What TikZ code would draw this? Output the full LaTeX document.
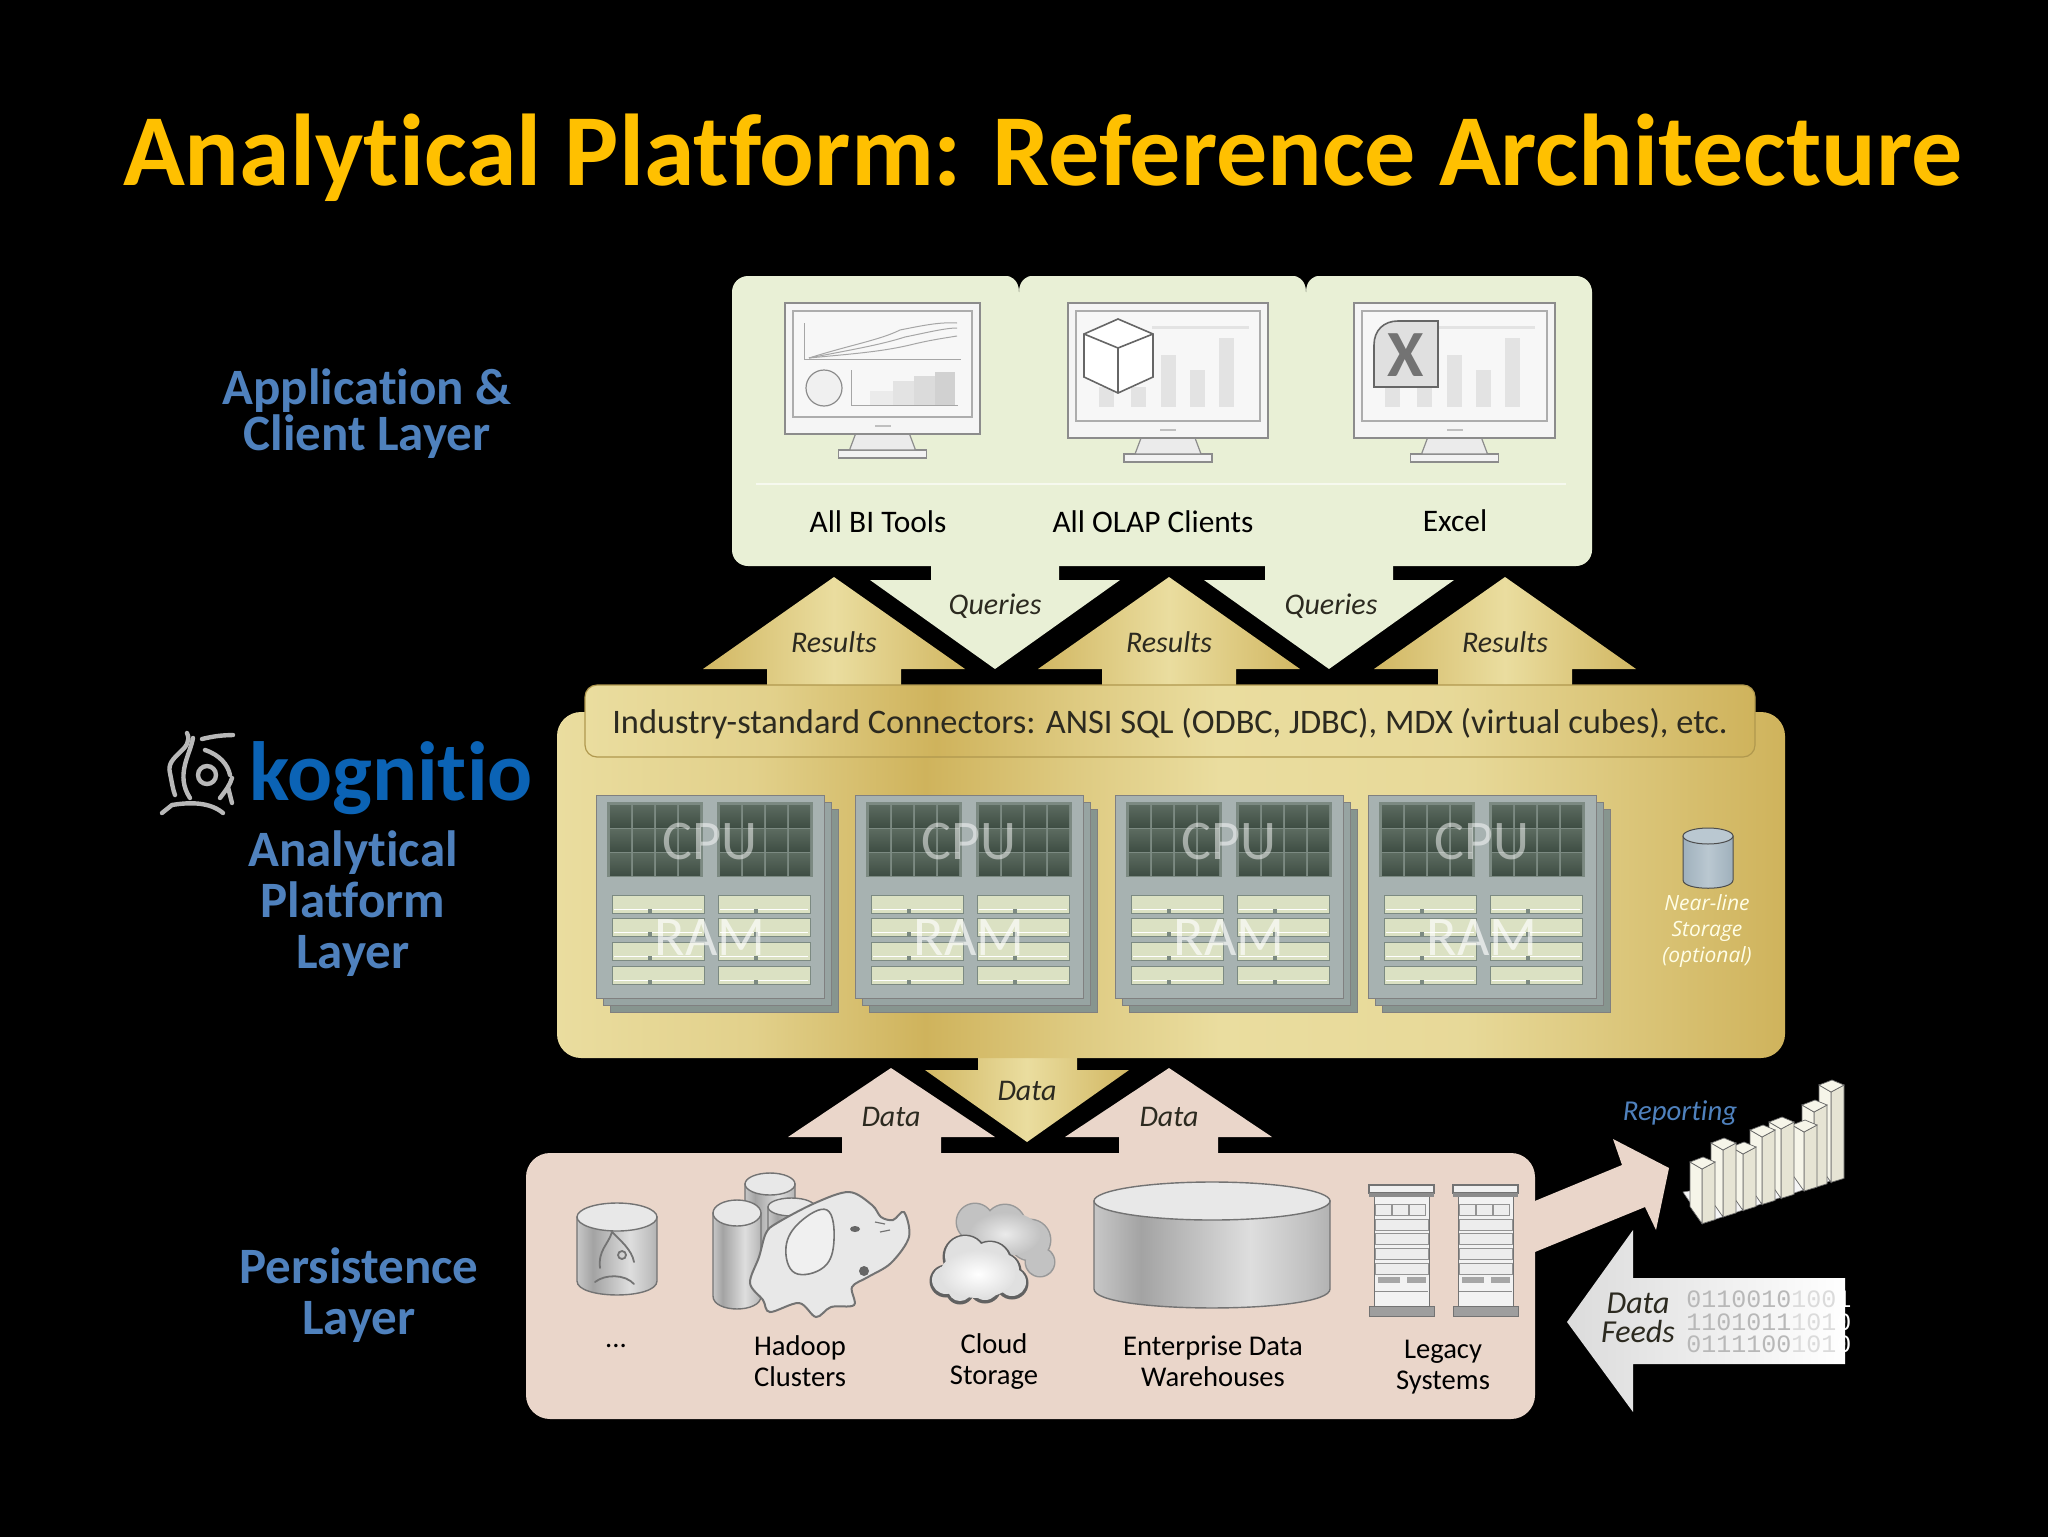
\documentclass[tikz,border=0pt]{standalone}
\usepackage{fontspec}
\setmainfont{Carlito}[Ligatures=NoCommon]
\newfontfamily\noteface{Open Sans}
\newfontfamily\bitface{Liberation Mono}
\usetikzlibrary{positioning}

\definecolor{titlegold}{HTML}{FFC000}
\definecolor{layerblue}{HTML}{4F81BD}
\definecolor{brandblue}{HTML}{0B63B5}
\definecolor{clientgreen}{HTML}{E9F0D6}
\definecolor{peach}{HTML}{EAD6CA}
\definecolor{goldA}{HTML}{EADD9F}
\definecolor{goldB}{HTML}{CFB35C}
\definecolor{darkink}{HTML}{2C2A20}
\definecolor{cardface}{HTML}{A7B2B1}
\definecolor{cardmid}{HTML}{97A4A2}
\definecolor{cardlow}{HTML}{87958F}
\definecolor{chipbed}{HTML}{7C8A82}
\definecolor{chiptop}{HTML}{5C6B60}
\definecolor{chiplow}{HTML}{3F4E44}
\definecolor{ramfill}{HTML}{DBE1C3}
\definecolor{steelA}{HTML}{9FB0BC}
\definecolor{steelB}{HTML}{BAC8D1}
\definecolor{barlit}{HTML}{F6F5E9}
\definecolor{barshade}{HTML}{E6E4D4}

\pgfdeclarehorizontalshading{goldband}{100bp}{
  color(0bp)=(goldA); color(25bp)=(goldA); color(33bp)=(goldA!70!goldB);
  color(40bp)=(goldB); color(46bp)=(goldA!55!goldB); color(52bp)=(goldA);
  color(62bp)=(goldA!90!goldB); color(75bp)=(goldB); color(100bp)=(goldB)}
\pgfdeclarehorizontalshading{drumside}{100bp}{
  color(0bp)=(black!22); color(25bp)=(black!22); color(35bp)=(black!36);
  color(58bp)=(black!13); color(70bp)=(black!24); color(75bp)=(black!30); color(100bp)=(black!30)}

\begin{document}
\begin{tikzpicture}[x=0.5pt,y=-0.5pt,
titletext/.style={font=\fontsize{51}{51}\selectfont\bfseries,text=titlegold,inner sep=0pt},
layertext/.style={font=\fontsize{25.5}{25.5}\selectfont\bfseries,text=layerblue,align=center,inner sep=0pt},
itemtext/.style={font=\fontsize{14.3}{15.5}\selectfont,text=black,align=center,inner sep=0pt},
clienttext/.style={font=\fontsize{15.7}{16}\selectfont,text=black,inner sep=0pt},
flowtext/.style={font=\fontsize{15}{14.5}\selectfont\itshape,text=darkink,align=center,inner sep=0pt},
chiptext/.style={font=\fontsize{28}{28}\selectfont,text=white,inner sep=0pt},
bittext/.style={font=\fontsize{12.5}{11.2}\selectfont\bitface,text=black!28,align=left,inner sep=0pt},
screen/.style={draw=black!32,fill=black!3,line width=0.6pt},
chart/.style={fill=black!11},
chartline/.style={draw=black!35,line width=0.5pt},
drumwall/.style={shading=drumside,draw=black!55,line width=0.7pt},
drumlid/.style={fill=black!9,draw=black!55,line width=0.7pt},
goldarrow/.style={left color=goldB!90!goldA,right color=goldB!90!goldA,middle color=goldA},
owlstroke/.style={draw=black!28,line width=2.2pt,line cap=round},
owlfaint/.style={draw=black!55,line width=0.9pt,line cap=round},
rackunit/.style={fill=black!7,draw=black!42,line width=0.35pt},
barfront/.style={fill=barlit,draw=black!60,line width=0.35pt},
barside/.style={fill=barshade,draw=black!60,line width=0.35pt}
]

\useasboundingbox (0,0) rectangle (2048,1536);
\fill[black] (-6,-6) rectangle (2054,1542);

%% Title and layer names %%%%%%%%%%%%%%%%%%%%%%%%%%%%%%%%%%%%%%%%%%%%%%%%%%%%
\node [titletext] (title) at (1043,158) {Analytical Platform: Reference Architecture};
\node [layertext,font=\fontsize{25.5}{23}\selectfont\bfseries] (appname) at (367,414) {Application \&\\Client Layer};
\node [layertext] (platname) at (353,904) {Analytical\\Platform\\Layer};
\node [layertext] (persname) at (359,1295) {Persistence\\Layer};
\node [font=\fontsize{42}{42}\selectfont\bfseries,text=brandblue,inner sep=0pt] (brand) at (391,778) {kognitio};

%% Owl mark
\draw [owlstroke] (202,739) to[bend left=6] (233,735);
\draw [owlstroke] (187,733) .. controls (195,750) and (165,755) .. (170,773) .. controls (172,783) and (173,790) .. (175,795);
\draw [owlstroke] (193,738) .. controls (190,755) and (175,775) .. (190,798);
\draw [owlstroke] (205,750) .. controls (220,755) and (228,765) .. (230,775);
\draw [owlstroke] (232,778) .. controls (230,785) and (226,790) .. (220,798);
\draw [owlstroke] (207,775) circle (9);
\draw [owlstroke] (228,787) -- (232,803);
\draw [owlstroke] (162,813) -- (172,805) .. controls (190,802) and (210,802) .. (223,813);

%% Client panel %%%%%%%%%%%%%%%%%%%%%%%%%%%%%%%%%%%%%%%%%%%%%%%%%%%%%%%%%%%%%%
\foreach \tx in {995,1329}
\fill [clientgreen] ({\tx-64},560) -- ({\tx-64},580) -- ({\tx-125},580) -- (\tx,669) -- ({\tx+125},580) -- ({\tx+64},580) -- ({\tx+64},560) -- cycle;
\fill [clientgreen,rounded corners=8pt] (732,566) rectangle (1592,276);
\foreach \nx in {1019,1306}
\fill [black] ({\nx-16},275) .. controls ({\nx-5},276) and (\nx,282) .. (\nx,292) .. controls (\nx,282) and ({\nx+5},276) .. ({\nx+16},275) -- cycle;
\draw [white!60!clientgreen,line width=0.8pt] (756,484) -- (1566,484);

%% Monitors
\foreach \mx/\my/\mw/\mh in {785/303/195/131,1068/303/200/135,1354/303/201/135} {
  \filldraw [fill=black!5,draw=black!45,line width=0.6pt] ({\mx+\mw/2-44},{\my+\mh+16}) rectangle ({\mx+\mw/2+44},{\my+\mh+24});
  \filldraw [fill=black!8,draw=black!45,line width=0.6pt] ({\mx+\mw/2-27},{\my+\mh}) -- ({\mx+\mw/2-33},{\my+\mh+16}) -- ({\mx+\mw/2+33},{\my+\mh+16}) -- ({\mx+\mw/2+27},{\my+\mh}) -- cycle;
  \filldraw [fill=black!4,draw=black!45,line width=0.8pt] (\mx,\my) rectangle ({\mx+\mw},{\my+\mh});
  \draw [screen] ({\mx+8},{\my+8}) rectangle ({\mx+\mw-8},{\my+\mh-17});
  \fill [black!25] ({\mx+\mw/2-8},{\my+\mh-9}) rectangle ({\mx+\mw/2+8},{\my+\mh-7});
}

%% Charts on the monitors
\draw [chartline] (804,323) -- (804,359) -- (961,359);
\draw [chartline] (809,358) .. controls (850,345) and (880,340) .. (900,330) .. controls (925,325) and (940,322) .. (957,323);
\draw [chartline] (809,358) .. controls (850,350) and (880,345) .. (905,337) .. controls (925,333) and (945,328) .. (957,328);
\draw [chartline] (809,358) .. controls (850,354) and (880,352) .. (910,345) .. controls (930,340) and (945,338) .. (957,336);
\filldraw [fill=black!6,draw=black!45,line width=0.6pt] (824,388) circle (18);
\fill [black!8] (870,391) rectangle (893,405);
\fill [black!11] (893,381) rectangle (914,405);
\fill [black!14] (914,376) rectangle (935,405);
\fill [black!18] (935,372) rectangle (955,405);
\draw [chartline] (851,370) -- (851,405) -- (958,405);
\foreach \ox in {0,286} {
  \foreach \bl/\bt in {1099/387,1131/387,1161/355,1190/370,1219/338}
  \fill [chart] ({\bl+\ox},\bt) rectangle ({\bl+15+\ox},407);
  \fill [chart] ({1152+\ox},326) rectangle ({1249+\ox},329);
}
\filldraw [fill=white,draw=black!60,line width=0.8pt] (1118,319) -- (1153,334) -- (1153,377) -- (1118,393) -- (1084,377) -- (1084,334) -- cycle;
\draw [black!60,line width=0.8pt] (1084,334) -- (1118,348) -- (1153,334) (1118,348) -- (1118,393);
\filldraw [fill=black!12,draw=black!60,line width=0.8pt] (1398,321) -- (1438,321) -- (1438,387) -- (1374,387) -- (1374,345) .. controls (1374,330) and (1384,321) .. (1398,321) -- cycle;
\node [font=\fontsize{33}{33}\selectfont\bfseries,text=black!55,inner sep=0pt] (xmark) at (1406,355) {X};

\node [clienttext] (bitools) at (878,522) {All BI Tools};
\node [clienttext] (olap) at (1153,522) {All OLAP Clients};
\node [clienttext] (excel) at (1455,521) {Excel};
\node [flowtext] (queryA) at (995,606) {Queries};
\node [flowtext] (queryB) at (1331,606) {Queries};

%% Platform panel %%%%%%%%%%%%%%%%%%%%%%%%%%%%%%%%%%%%%%%%%%%%%%%%%%%%%%%%%%%%
\foreach \tx in {834,1169,1505}
\shade [goldarrow] ({\tx-67},690) -- ({\tx-67},669) -- ({\tx-131},669) -- (\tx,577) -- ({\tx+131},669) -- ({\tx+67},669) -- ({\tx+67},690) -- cycle;
\shade [goldarrow] (978,1050) -- (978,1070) -- (925,1070) -- (1027,1142) -- (1129,1070) -- (1077,1070) -- (1077,1050) -- cycle;
\shade [shading=goldband,rounded corners=12pt] (557,712) rectangle (1785,1058);
\fill [black] (557,705) rectangle (585,712);
\shade [shading=goldband,draw=goldB!85!black,line width=0.6pt,rounded corners=6pt] (585,685) rectangle (1755,757);
\node [font=\fontsize{17.2}{17}\selectfont,text=darkink,inner sep=0pt] (connectors) at (1170,724) {Industry-standard Connectors: ANSI SQL (ODBC, JDBC), MDX (virtual cubes), etc.};
\node [flowtext] (resultA) at (834,642) {Results};
\node [flowtext] (resultB) at (1169,642) {Results};
\node [flowtext] (resultC) at (1505,642) {Results};
\node [flowtext] (dataDown) at (1027,1091) {Data};

%% Compute cards
\foreach \cx in {596,855,1115,1368} {
  \foreach \sk/\tone in {14/cardlow,7/cardmid,0/cardface}
  \filldraw [fill=\tone,draw=black!50,line width=0.35pt] ({\cx+\sk},{795+\sk}) rectangle ({\cx+228+\sk},{998+\sk});
  \foreach \px in {11,121} {
    \fill [chipbed] ({\cx+\px},802) rectangle ({\cx+\px+96},877);
    \foreach \col in {0,1,2,3}
    \foreach \row in {0,1,2}
    \shade [top color=chiptop,bottom color=chiplow] ({\cx+\px+3+\col*23},{805+\row*24}) rectangle ({\cx+\px+24+\col*23},{827+\row*24});
  }
  \foreach \px in {16,122} {
    \foreach \ry in {895,918,942,966} {
      \filldraw [fill=ramfill,draw=chipbed,line width=0.5pt] ({\cx+\px},\ry) rectangle ({\cx+\px+92},{\ry+18});
      \draw [white,line width=0.3pt] ({\cx+\px+2},{\ry+14}) -- ({\cx+\px+90},{\ry+14});
      \fill [chipbed] ({\cx+\px+36},{\ry+14}) rectangle ({\cx+\px+40},{\ry+18});
    }
  }
  \node [chiptext,text opacity=.5] (cpu\cx) at ({\cx+114},842) {CPU};
  \node [chiptext,text opacity=.65] (ram\cx) at ({\cx+114},938) {RAM};
}

%% Near-line storage
\shade [left color=steelA,right color=steelA,middle color=steelB,draw=black!70,line width=0.5pt] (1683,836) -- (1683,880) .. controls (1683,891) and (1733,891) .. (1733,880) -- (1733,836) -- cycle;
\filldraw [fill=steelB,draw=black!70,line width=0.5pt] (1708,836) ellipse (25 and 8);
\node [font=\fontsize{10.5}{12.9}\selectfont\noteface\itshape,text=yellow!10!white,align=center,inner sep=0pt] (nearline) at (1707,931) {Near-line\\Storage\\(optional)};

%% Persistence panel %%%%%%%%%%%%%%%%%%%%%%%%%%%%%%%%%%%%%%%%%%%%%%%%%%%%%%%%%
\foreach \tx/\hl/\hr/\sl/\sr in {891/788/995/842/941,1169/1065/1272/1119/1218}
\fill [peach] (\sl,1160) -- (\sl,1137) -- (\hl,1137) -- (\tx,1068) -- (\hr,1137) -- (\sr,1137) -- (\sr,1160) -- cycle;
\fill [peach] (1530,1203) -- (1622,1165) -- (1613,1139) -- (1669,1168) -- (1656,1230) -- (1645,1207) -- (1530,1254) -- cycle;
\fill [peach,rounded corners=12pt] (526,1153) rectangle (1535,1419);
\node [flowtext] (dataA) at (891,1117) {Data};
\node [flowtext] (dataB) at (1169,1117) {Data};

%% Cylinders
\foreach \cl/\cr/\ct/\cb/\cry in {577/657/1217/1281/14,745/795/1184/1245/11,768/815/1207/1260/9,713/761/1213/1296/13,1094/1330/1201/1289/19} {
  \shade [drumwall] (\cl,\ct) -- (\cl,\cb) .. controls (\cl,{\cb+1.33*\cry}) and (\cr,{\cb+1.33*\cry}) .. (\cr,\cb) -- (\cr,\ct) -- cycle;
  \filldraw [drumlid] ({(\cl+\cr)/2},\ct) ellipse ({(\cr-\cl)/2} and \cry);
}
%% Faint owl on the first cylinder
\draw [owlfaint] (612,1232) .. controls (608,1245) and (598,1250) .. (600,1268);
\draw [owlfaint] (612,1232) .. controls (620,1240) and (632,1250) .. (634,1262);
\draw [owlfaint] (622,1255) circle (4);
\draw [owlfaint] (595,1282) .. controls (605,1274) and (625,1274) .. (634,1284);

%% Elephant
\filldraw [fill=black!9,draw=black!55,line width=1pt] plot [smooth cycle,tension=.55] coordinates {(777,1223) (815,1203) (849,1192) (872,1205) (881,1217) (893,1220) (904,1212) (909,1237) (891,1263) (868,1277) (852,1287) (854,1305) (831,1307) (816,1317) (799,1303) (770,1312) (763,1300) (750,1283) (759,1257) (766,1233)};
\filldraw [fill=black!6,draw=black!55,line width=0.8pt] plot [smooth cycle,tension=.7] coordinates {(827,1210) (800,1222) (786,1247) (795,1273) (824,1267) (834,1240)};
\fill [black!60] (855,1229) ellipse (5 and 3);
\fill [black!60] (864,1271) ellipse (5 and 5);
\draw [black!55,line width=0.6pt] (875,1222) -- (885,1224) (880,1232) -- (890,1230);

%% Cloud
\foreach \ox/\oy/\orad in {975/1222/18,1005/1225/20,1030/1240/20,1040/1262/14}
\fill [black!40] (\ox,\oy) circle ({\orad+1.5});
\foreach \ox/\oy/\orad in {975/1222/18,1005/1225/20,1030/1240/20,1040/1262/14}
\fill [black!24] (\ox,\oy) circle (\orad);
\shade [inner color=black!8,outer color=black!24] (1005,1234) ellipse (36 and 22);
\foreach \ox/\oy/\orad in {946/1280/14,965/1256/20,990/1262/20,1012/1282/14,985/1286/14,960/1289/12,1003/1270/16}
\fill [black!62] ({\ox},{\oy+1}) circle ({\orad+2.5});
\foreach \ox/\oy/\orad in {946/1280/14,965/1256/20,990/1262/20,1012/1282/14,985/1286/14,960/1289/12,1003/1270/16}
\fill [black!12] (\ox,\oy) circle (\orad);
\shade [inner color=white,outer color=black!12] (978,1274) ellipse (38 and 24);

%% Racks
\foreach \rx in {1369,1453} {
  \filldraw [fill=black!5,draw=black!55,line width=0.5pt] ({\rx+5},1190) rectangle ({\rx+60},1310);
  \filldraw [fill=black!6,draw=black!55,line width=0.6pt] (\rx,1185) rectangle ({\rx+65},1193);
  \fill [black!45] (\rx,1193) rectangle ({\rx+65},1197);
  \foreach \bx in {6,23,40}
  \filldraw [rackunit] ({\rx+\bx},1204) rectangle ({\rx+\bx+16},1215);
  \foreach \ry in {1219,1233,1248,1263}
  \filldraw [rackunit] ({\rx+6},\ry) rectangle ({\rx+59},{\ry+11});
  \fill [black!35] ({\rx+9},1277) rectangle ({\rx+31},1283);
  \fill [black!35] ({\rx+38},1277) rectangle ({\rx+57},1283);
  \draw [black!45,line width=0.35pt] ({\rx+6},1291) -- ({\rx+59},1291);
  \filldraw [fill=black!38,draw=black!55,line width=0.5pt] (\rx,1306) rectangle ({\rx+65},1316);
}

\node [itemtext] (dots) at (616,1346) {...};
\node [itemtext] (hadoop) at (800,1361) {Hadoop\\Clusters};
\node [itemtext] (cloud) at (994,1362) {Cloud\\Storage};
\node [itemtext] (edw) at (1213,1361) {Enterprise Data\\Warehouses};
\node [itemtext] (legacy) at (1443,1367) {Legacy\\Systems};

%% Reporting chart %%%%%%%%%%%%%%%%%%%%%%%%%%%%%%%%%%%%%%%%%%%%%%%%%%%%%%%%%%%
\node [flowtext,font=\fontsize{14.4}{14.5}\selectfont\itshape,text=layerblue] (reporting) at (1680,1113) {Reporting};
\filldraw [fill=black!4,draw=black!50,line width=0.3pt] (1683,1192) -- (1704,1223) -- (1839,1178) -- (1820,1170) -- cycle;
\foreach \bx/\bt in {1819/1080,1802/1100,1792/1120,1769/1117,1750/1125,1731/1142,1711/1138,1690/1157} {
  \pgfmathsetmacro{\by}{1223-(\bx+12-1704)*0.32}
  \filldraw [barside] ({\bx+12},{\bt+12}) -- ({\bx+25},{\bt+5}) -- ({\bx+25},{\by-4}) -- ({\bx+12},\by) -- cycle;
  \filldraw [barfront] (\bx,{\bt+5}) -- ({\bx+12},{\bt+12}) -- ({\bx+12},\by) -- (\bx,{\by-17}) -- cycle;
  \filldraw [barfront] (\bx,{\bt+5}) -- ({\bx+13},\bt) -- ({\bx+25},{\bt+5}) -- ({\bx+12},{\bt+12}) -- cycle;
}

%% Data feeds %%%%%%%%%%%%%%%%%%%%%%%%%%%%%%%%%%%%%%%%%%%%%%%%%%%%%%%%%%%%%%%%
\shade [left color=black!14,right color=white] (1567,1322) -- (1633,1230) -- (1633,1278) -- (1845,1278) -- (1845,1364) -- (1633,1364) -- (1633,1412) -- cycle;
\node [bittext,anchor=west] (bits) at (1686,1322) {0110010\textcolor{black!14}{100}\textcolor{white}{1}\\1101011\textcolor{black!14}{101}\textcolor{white}{0}\\0111100\textcolor{black!14}{101}\textcolor{white}{0}};
\node [flowtext,font=\fontsize{16}{14.5}\selectfont\itshape] (feeds) at (1638,1318) {Data\\Feeds};

\end{tikzpicture}
\end{document}
